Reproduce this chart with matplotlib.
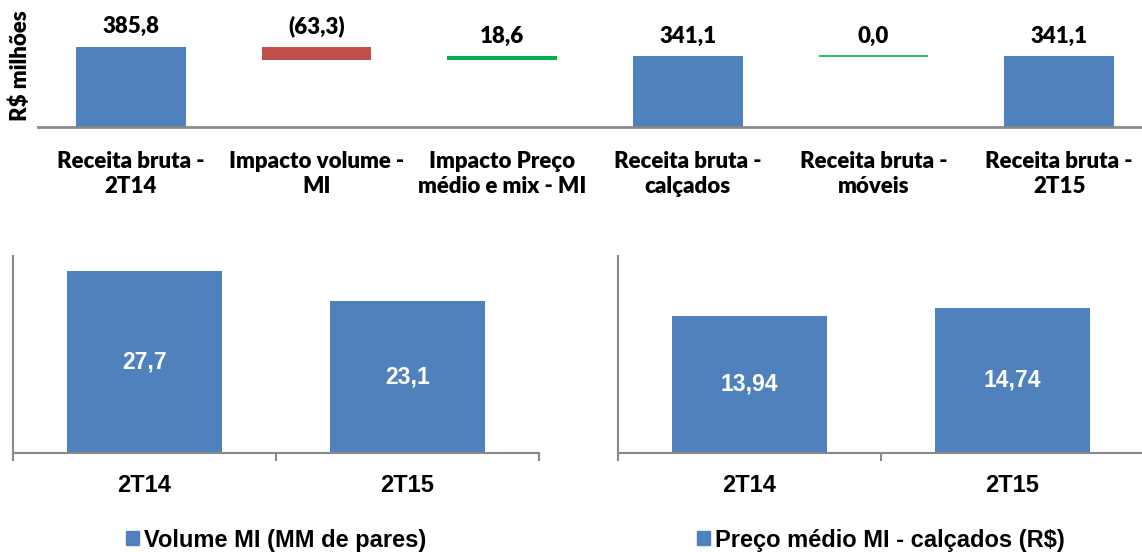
import matplotlib
matplotlib.use("Agg")
import matplotlib.pyplot as plt
from matplotlib.patches import Patch
from matplotlib import font_manager
import numpy as np

# ---------------- data ----------------
wf_categories = ["Receita bruta -\n2T14", "Impacto volume -\nMI", "Impacto Preço\nmédio e mix - MI",
                 "Receita bruta -\ncalçados", "Receita bruta -\nmóveis", "Receita bruta -\n2T15"]
wf_values = [385.8, -63.3, 18.6, 341.1, 0.0, 341.1]
wf_kinds = ["total", "delta", "delta", "total", "delta", "total"]

periods = ["2T14", "2T15"]
volume_values = [27.7, 23.1]
price_values = [13.94, 14.74]
volume_label = "Volume MI (MM de pares)"
price_label = "Preço médio MI - calçados (R$)"

BLUE = "#4F81BD"
RED = "#C0504D"
GREEN = "#00B050"
GRAY = "#898989"

def fmt(v, nd=1):
    s = f"{abs(v):.{nd}f}".replace(".", ",")
    return f"({s})" if v < 0 else s

W, H = 1142, 552
fig = plt.figure(figsize=(W / 100, H / 100), dpi=100)

def px_axes(x0, y0, x1, y1):
    return fig.add_axes([x0 / W, 1 - y1 / H, (x1 - x0) / W, (y1 - y0) / H])

# ---------------- waterfall ----------------
top_font = "Lato"
top_weight = "heavy"
ax = px_axes(38, 0, 1152, 127)
x = np.arange(len(wf_values))
running = 0.0
bottoms, heights, colors = [], [], []
for v, k in zip(wf_values, wf_kinds):
    if k == "total":
        bottoms.append(0.0); heights.append(v); colors.append(BLUE)
        running = v
    else:
        if v < 0:
            bottoms.append(running + v); heights.append(-v); colors.append(RED)
        else:
            bottoms.append(running); heights.append(v); colors.append(GREEN)
        running += v
bars = ax.bar(x, heights, bottom=bottoms, width=0.59, color=colors, zorder=2)
for b, v, c in zip(bars, wf_values, colors):
    if v == 0:
        ax.hlines(b.get_y(), b.get_x(), b.get_x() + b.get_width(), color=GREEN, lw=1.2, zorder=3)
    top = b.get_y() + b.get_height()
    ax.annotate(fmt(v), (b.get_x() + b.get_width() / 2, top), xytext=(0, 10),
                textcoords="offset points", ha="center", va="baseline",
                fontsize=16, fontweight=top_weight, family=top_font, color="black")
ax.set_xlim(-0.5, len(wf_values) - 0.5)
ax.set_ylim(0, 613)
ax.set_xticks(x)
ax.set_xticklabels(wf_categories, fontsize=16, fontweight=top_weight, family=top_font, linespacing=1.25)
ax.tick_params(axis="x", length=0, pad=17)
ax.set_yticks([])
for s in ["top", "right", "left"]:
    ax.spines[s].set_visible(False)
ax.spines["bottom"].set_color(GRAY)
ax.spines["bottom"].set_linewidth(2)
fig.text(20.5 / W, 1 - 65.7 / H, "R$ milhões", rotation=90, ha="center", va="center",
         fontsize=16, fontweight=top_weight, family=top_font)

# ---------------- bottom charts ----------------
bot_font = "Liberation Sans"

def small_chart(x0, vals, ymax, label, nd):
    a = px_axes(x0, 256, x0 + 526.3, 452.7)
    xs = np.arange(len(vals))
    bs = a.bar(xs, vals, width=0.59, color=BLUE, zorder=2)
    for b, v in zip(bs, vals):
        a.text(b.get_x() + b.get_width() / 2, v / 2, fmt(v, nd), ha="center", va="center",
               color="white", fontsize=16.5, fontweight="bold", family=bot_font)
    a.set_xlim(-0.5, len(vals) - 0.5)
    a.set_ylim(0, ymax)
    a.set_yticks([])
    a.set_xticks(xs)
    a.set_xticklabels(periods, fontsize=17, fontweight="bold", family=bot_font)
    a.set_xticks(np.arange(len(vals) + 1) - 0.5, minor=True)
    a.tick_params(axis="x", which="major", length=0, pad=15.5)
    a.tick_params(axis="x", which="minor", length=5.4, width=1.5, color=GRAY)
    for s in ["top", "right"]:
        a.spines[s].set_visible(False)
    for s in ["left", "bottom"]:
        a.spines[s].set_color(GRAY)
        a.spines[s].set_linewidth(1.5)
    a.legend(handles=[Patch(color=BLUE, label=label)], loc="center",
             bbox_to_anchor=(0.5, (452.7 - 540) / 196.7), frameon=False,
             prop={"family": bot_font, "weight": "bold", "size": 17},
             handlelength=0.54, handleheight=0.54, handletextpad=0.22, borderpad=0, borderaxespad=0)
    return a

small_chart(12.7, volume_values, 30, volume_label, 1)
small_chart(617.7, price_values, 20, price_label, 2)

fig.savefig("out.png", dpi=100)
